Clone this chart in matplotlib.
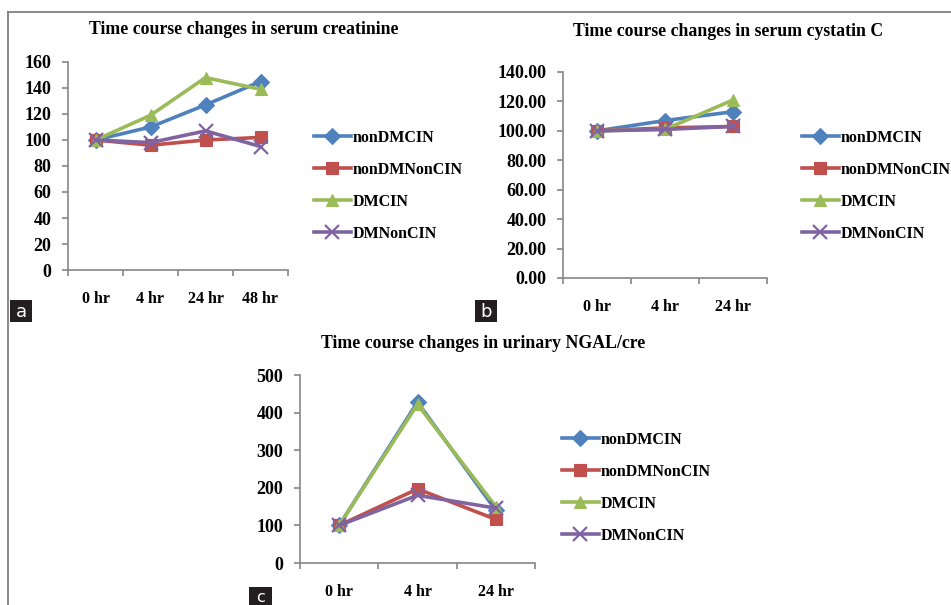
import matplotlib
matplotlib.use("Agg")
import matplotlib.pyplot as plt
from matplotlib.lines import Line2D
from matplotlib.patches import Rectangle
from matplotlib.ticker import FormatStrFormatter, FixedLocator

# --- data ---
series_names = ["nonDMCIN", "nonDMNonCIN", "DMCIN", "DMNonCIN"]

hours_creat = ["0 hr", "4 hr", "24 hr", "48 hr"]
creat_nonDMCIN = [100, 110, 127, 145]
creat_nonDMNonCIN = [100, 96, 100, 102]
creat_DMCIN = [100, 119, 148, 139]
creat_DMNonCIN = [100, 98, 107, 95]

hours_cys = ["0 hr", "4 hr", "24 hr"]
cys_nonDMCIN = [100, 107, 113]
cys_nonDMNonCIN = [100, 102, 103]
cys_DMCIN = [100, 101, 121]
cys_DMNonCIN = [100, 101, 103]

hours_ngal = ["0 hr", "4 hr", "24 hr"]
ngal_nonDMCIN = [100, 428, 140]
ngal_nonDMNonCIN = [100, 197, 116]
ngal_DMCIN = [100, 422, 150]
ngal_DMNonCIN = [100, 180, 146]

colors = ["#4F81BD", "#C0504D", "#9BBB59", "#8064A2"]
markers = ["D", "s", "^", "x"]

W, H = 951, 605
SERIF = ["Liberation Serif", "DejaVu Serif"]
AXIS_GREY = "#868686"

fig = plt.figure(figsize=(W / 100, H / 100), dpi=100)
fig.patch.set_facecolor("white")


def px_box(x0, y0, x1, y1):
    """pixel box (top-left origin) -> figure fraction rect"""
    return [x0 / W, 1 - y1 / H, (x1 - x0) / W, (y1 - y0) / H]


def fx(x):
    return x / W


def fy(y):
    return 1 - y / H


def panel(box, cats, values, ymax, ystep, yfmt, title, title_xy, leg_xy):
    ax = fig.add_axes(px_box(*box))
    n = len(cats)
    for vals, name, c, m in zip(values, series_names, colors, markers):
        ms = 9.5 if m == "x" else 8.5
        ax.plot(range(n), vals, color=c, marker=m, markersize=ms, lw=2.6,
                markeredgecolor=c, markeredgewidth=1.6 if m == "x" else 0.8,
                label=name, clip_on=False)
    ax.set_xlim(-0.5, n - 0.5)
    ax.set_ylim(0, ymax)
    ax.set_yticks(range(0, ymax + 1, ystep))
    ax.yaxis.set_major_formatter(FormatStrFormatter(yfmt))
    ax.set_xticks(range(n))
    ax.set_xticklabels(cats)
    ax.xaxis.set_minor_locator(FixedLocator([i - 0.5 for i in range(n + 1)]))
    for s in ("top", "right"):
        ax.spines[s].set_visible(False)
    for s in ("left", "bottom"):
        ax.spines[s].set_color(AXIS_GREY)
        ax.spines[s].set_linewidth(1.2)
    ax.tick_params(axis="x", which="major", length=0, pad=15)
    ax.tick_params(axis="x", which="minor", length=4, width=1.2,
                   color=AXIS_GREY, direction="out")
    ax.tick_params(axis="y", length=4, width=1.2, color=AXIS_GREY,
                   direction="out", pad=8)
    for lab in ax.get_xticklabels():
        lab.set_fontfamily(SERIF)
        lab.set_fontweight("bold")
        lab.set_fontsize(11.5)
    for lab in ax.get_yticklabels():
        lab.set_fontfamily(SERIF)
        lab.set_fontweight("bold")
        lab.set_fontsize(13)
    ax.patch.set_alpha(0)

    fig.text(fx(title_xy[0]), fy(title_xy[1]), title, ha="center", va="center",
             fontfamily=SERIF, fontweight="bold", fontsize=12.8)

    ax.legend(loc="upper left", bbox_to_anchor=(fx(leg_xy[0]), fy(leg_xy[1])),
              bbox_transform=fig.transFigure, frameon=False, borderpad=0,
              borderaxespad=0, handlelength=2.3, handletextpad=0.1,
              labelspacing=1.0, numpoints=1,
              prop={"family": SERIF, "weight": "bold", "size": 11.5})
    return ax


panel((68, 62, 288, 270), hours_creat,
      [creat_nonDMCIN, creat_nonDMNonCIN, creat_DMCIN, creat_DMNonCIN],
      160, 20, "%d", "Time course changes in serum creatinine", (244, 30), (314, 130))

panel((563, 72, 767, 278), hours_cys,
      [cys_nonDMCIN, cys_nonDMNonCIN, cys_DMCIN, cys_DMNonCIN],
      140, 20, "%.2f", "Time course changes in serum cystatin C", (728, 31), (802, 130))

panel((300, 375, 535, 563), hours_ngal,
      [ngal_nonDMCIN, ngal_nonDMNonCIN, ngal_DMCIN, ngal_DMNonCIN],
      500, 100, "%d", "Time course changes in urinary NGAL/cre", (483, 343), (562, 432))

# outer frame (top and left edges only)
fig.add_artist(Line2D([fx(8), fx(951)], [fy(12), fy(12)], color="#808080", lw=1.3))
fig.add_artist(Line2D([fx(8), fx(8)], [fy(12), fy(605)], color="#808080", lw=1.3))

# panel letters
for letter, (x0, y0, x1, y1) in zip("abc", [(10, 300, 32, 322), (475, 300, 497, 322),
                                            (249, 587, 272, 605)]):
    fig.add_artist(Rectangle((fx(x0), fy(y1)), (x1 - x0) / W, (y1 - y0) / H,
                             transform=fig.transFigure, facecolor="#231F20",
                             edgecolor="none"))
    fig.text(fx((x0 + x1) / 2), fy((y0 + y1) / 2 + 1), letter, color="white",
             ha="center", va="center",
             fontsize=13 if letter != "c" else 11.5, fontfamily="DejaVu Sans")

fig.savefig("out.png", dpi=100)
